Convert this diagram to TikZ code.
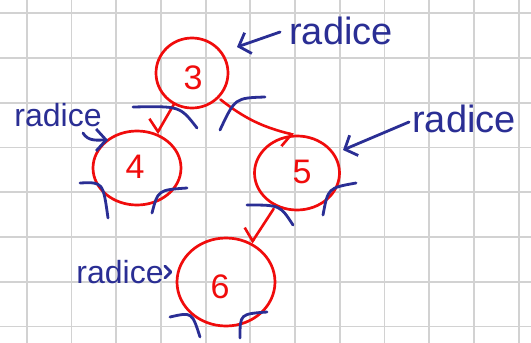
\documentclass[tikz,border=0pt]{standalone}
\usepackage{fontspec}
\setmainfont{Liberation Sans}
\usetikzlibrary{arrows.meta,shapes.geometric}
\definecolor{inkred}{RGB}{240,12,12}
\definecolor{inkblue}{RGB}{42,46,148}
\definecolor{gridgray}{RGB}{210,210,210}
\begin{document}
\begin{tikzpicture}[x=1pt,y=-1pt,
  treenode/.style={draw=inkred, line width=2.7pt, ellipse, inner sep=0pt},
  digit/.style={text=inkred, inner sep=0pt, font=\fontsize{34}{34}\selectfont},
  ink/.style={draw=inkblue, line width=2.8pt, line cap=round, line join=round},
  redge/.style={draw=inkred, line width=2.6pt, line cap=round,
    -{Straight Barb[right,length=7pt,width=28pt,line width=2.6pt]}},
  bluearrow/.style={ink, -{Straight Barb[length=10pt,width=22pt,line width=2.8pt]}},
  word/.style={text=inkblue, inner sep=0pt},
]
\useasboundingbox (0,0) rectangle (531,343);
\fill[white] (0,0) rectangle (531,343);
% grid
\foreach \k in {0,...,11} \draw[gridgray, line width=1.8pt] ({26.7+44.73*\k},0) -- ({26.7+44.73*\k},343);
\foreach \k in {0,...,7} \draw[gridgray, line width=1.8pt] (0,{13.3+44.73*\k}) -- (531,{13.3+44.73*\k});

% tree nodes
\node[treenode, minimum width=72pt, minimum height=70pt] (n3) at (192,73) {};
\node[treenode, minimum width=88pt, minimum height=74pt] (n4) at (137,168) {};
\node[treenode, minimum width=85pt, minimum height=74pt] (n5) at (297,173) {};
\node[treenode, minimum width=98pt, minimum height=88pt] (n6) at (226,282) {};
\node[digit] (d3) at (193,78) {3};
\node[digit] (d4) at (135,167) {4};
\node[digit] (d5) at (302,172) {5};
\node[digit] (d6) at (220,287) {6};

% red edges
\draw[redge] (n3) -- (n4);
\draw[redge, shorten <=2pt] (n3) to[bend right=12] (n5.95);
\draw[redge, shorten <=3pt] (n5) -- (n6);

% blue null markers
\draw[ink] (133,107) .. controls (180,106) .. (197,128);
\draw[ink] (265,97) .. controls (235,98) .. (220,130);
\draw[ink] (80,183) .. controls (103,182) .. (108,218);
\draw[ink] (187,188) .. controls (158,190) .. (152,213);
\draw[ink] (247,205) .. controls (280,205) .. (293,225);
\draw[ink] (356,183) .. controls (328,188) .. (323,215);
\draw[ink] (170,317) .. controls (192,312) .. (200,337);
\draw[ink] (267,312) .. controls (240,314) .. (240,338);

% labels
\node[word, font=\fontsize{38}{38}\selectfont] (w3) at (341,31) {radice};
\node[word, font=\fontsize{38}{38}\selectfont] (w5) at (464,119) {radice};
\node[word, font=\fontsize{32}{32}\selectfont] (w4) at (58,115) {radice};
\node[word, font=\fontsize{32}{32}\selectfont] (w6) at (120,272) {radice};

\coordinate (t3) at (237,47);
\coordinate (t5) at (343,150);
\coordinate (s4) at (83,133);
\coordinate (t4) at (108,140);
\draw[bluearrow] ([xshift=-9pt,yshift=-1pt]w3.west) -- (t3);
\draw[bluearrow] ([xshift=-3pt,yshift=-3pt]w5.west) -- (t5);
\draw[bluearrow] (s4) to[out=-60,in=180] (t4);
\draw[ink] ([xshift=1pt]w6.east) ++(0,-6) -- ++(6,6) -- ++(-6,6);
\end{tikzpicture}
\end{document}
